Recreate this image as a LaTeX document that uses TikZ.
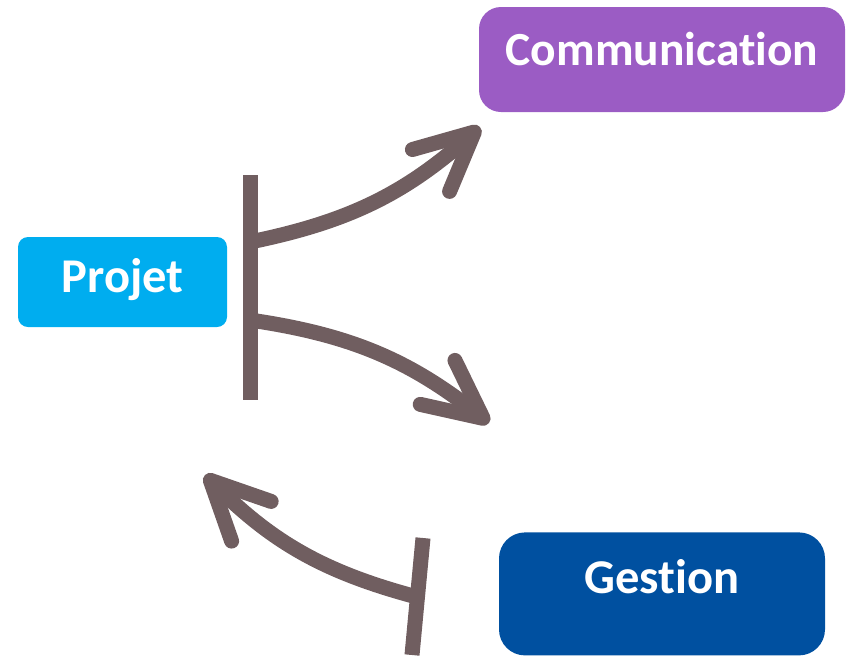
\documentclass[tikz,border=0pt]{standalone}
\usepackage{fontspec}
\setmainfont{Carlito}[Ligatures=NoCommon]
\usepackage{tikz}
\usetikzlibrary{arrows.meta,positioning}
\definecolor{projetblue}{HTML}{00ADEF}
\definecolor{commpurple}{HTML}{9B5CC4}
\definecolor{gestionblue}{HTML}{0050A0}
\definecolor{arrowgray}{HTML}{705E60}

\begin{document}
\begin{tikzpicture}[x=1pt,y=1pt,
	box/.style={inner sep=0pt,text=white,font=\fontsize{48.5}{52}\selectfont\bfseries},
	flow/.style={draw=arrowgray,line width=15pt,-{Straight Barb[length=58pt,width=56pt,round]}},
	bar/.style={draw=arrowgray,line width=15pt}]
	\useasboundingbox (0,0) rectangle (846,-657);

	\node [box, fill=commpurple, rounded corners=22pt, minimum width=366pt, text height=58pt, text depth=47pt, font=\fontsize{47.5}{52}\selectfont\bfseries]	(comm)		at (662,-59.5)		{Communication};
	\node [box, fill=projetblue, rounded corners=10pt, minimum width=209pt, text height=55pt, text depth=35pt]	(projet)	at (122.5,-282)		{Projet};
	\node [box, fill=gestionblue, rounded corners=26pt, minimum width=326pt, text height=61pt, text depth=62pt]	(gestion)	[below=420pt of comm]	{Gestion};

	\coordinate (bartop)	at (250,-175);
	\coordinate (barbot)	at (250,-400);
	\coordinate (upstart)	at (250,-242);
	\coordinate (uptip)		at (480,-127);
	\coordinate (lowstart)	at (250,-320);
	\coordinate (lowtip)	at (489,-423);
	\coordinate (gbartop)	at (423,-538);
	\coordinate (gbarbot)	at (412,-655);
	\coordinate (gstart)	at (417,-597);
	\coordinate (gtip)		at (205,-475);

	\draw [flow]	(upstart)	to [bend right=15]	(uptip);
	\draw [flow]	(lowstart)	to [bend left=15]	(lowtip);
	\draw [flow]	(gstart)	to [bend left=15]	(gtip);
	\draw [bar]		(bartop)	--	(barbot);
	\draw [bar]		(gbartop)	--	(gbarbot);
\end{tikzpicture}
\end{document}
